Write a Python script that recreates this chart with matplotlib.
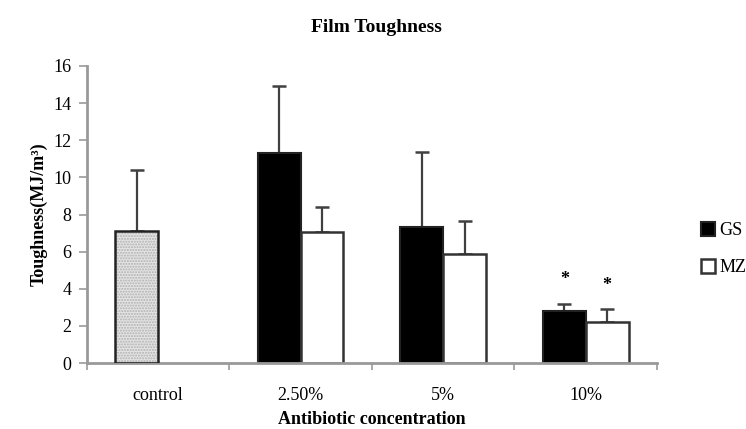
import matplotlib
matplotlib.use("Agg")
import matplotlib.pyplot as plt
import numpy as np

categories = ["control", "2.50%", "5%", "10%"]
control_value = 7.1
control_err = 3.3
gs_values = [11.3, 7.35, 2.8]
gs_err = [3.6, 4.0, 0.4]
mz_values = [7.05, 5.85, 2.2]
mz_err = [1.35, 1.8, 0.7]
series_names = ["GS", "MZ"]
sig_marks = ["*", "*"]

plt.rcParams['font.family'] = ['Liberation Serif', 'DejaVu Serif']

fig = plt.figure(figsize=(7.46, 4.29), dpi=100)
ax = fig.add_axes([0.1166, 0.1538, 0.7641, 0.6924])

w = 0.30
x = np.arange(len(categories))
gx = x[1:] - w / 2
mx = x[1:] + w / 2
ecol = "#404040"
ekw = dict(ecolor=ecol, elinewidth=1.6, capsize=5, capthick=1.8)

ax.bar(x[0] - w / 2, control_value, w, facecolor="#e4e4e4", edgecolor="#b0b0b0",
       linewidth=0, hatch="......", zorder=2)
ax.bar(x[0] - w / 2, control_value, w, facecolor="none", edgecolor="#222222",
       linewidth=1.8, zorder=3)
ax.errorbar(x[0] - w / 2, control_value, yerr=[[0], [control_err]], fmt="none", **ekw, zorder=1)

b1 = ax.bar(gx, gs_values, w, facecolor="black", edgecolor="#222222", linewidth=1.5,
            label=series_names[0], zorder=2)
ax.errorbar(gx, gs_values, yerr=[np.zeros(3), gs_err], fmt="none", **ekw, zorder=1)
b2 = ax.bar(mx, mz_values, w, facecolor="white", edgecolor="#333333", linewidth=1.8,
            label=series_names[1], zorder=2)
ax.errorbar(mx, mz_values, yerr=[np.zeros(3), mz_err], fmt="none", **ekw, zorder=1)

# significance markers
ax.text(gx[2], gs_values[2] + gs_err[2] + 1.3, sig_marks[0], ha="center", va="center",
        fontsize=13, fontweight="bold")
ax.text(mx[2], mz_values[2] + mz_err[2] + 1.3, sig_marks[1], ha="center", va="center",
        fontsize=13, fontweight="bold")

ax.set_xlim(-0.5, 3.5)
ax.set_ylim(0, 16)
ax.set_yticks(np.arange(0, 17, 2))
ax.set_xticks(x)
ax.set_xticklabels(categories, fontsize=13)
ax.set_xticks(np.arange(-0.5, 3.6, 1), minor=True)
ax.tick_params(axis="x", which="major", length=0, pad=17)
ax.tick_params(axis="x", which="minor", length=5, color="#999999", width=1.2, direction="out")
ax.tick_params(axis="y", length=6, color="#999999", width=1.2, labelsize=13, pad=5)

for s in ["top", "right"]:
    ax.spines[s].set_visible(False)
for s in ["left", "bottom"]:
    ax.spines[s].set_color("#999999")
    ax.spines[s].set_linewidth(2)

ax.set_ylabel("Toughness(MJ/m³)", fontsize=13, fontweight="bold", labelpad=4)
ax.set_xlabel("Antibiotic concentration", fontsize=13, fontweight="bold", labelpad=5)
fig.text(0.505, 0.935, "Film Toughness", ha="center", va="center", fontsize=14, fontweight="bold")

leg = fig.legend(handles=[b1, b2], loc="center left", bbox_to_anchor=(0.93, 0.42),
                 frameon=False, fontsize=13, handlelength=0.8, handleheight=0.8,
                 handletextpad=0.2, labelspacing=1.1, borderaxespad=0)

fig.savefig("out.png", dpi=100)
